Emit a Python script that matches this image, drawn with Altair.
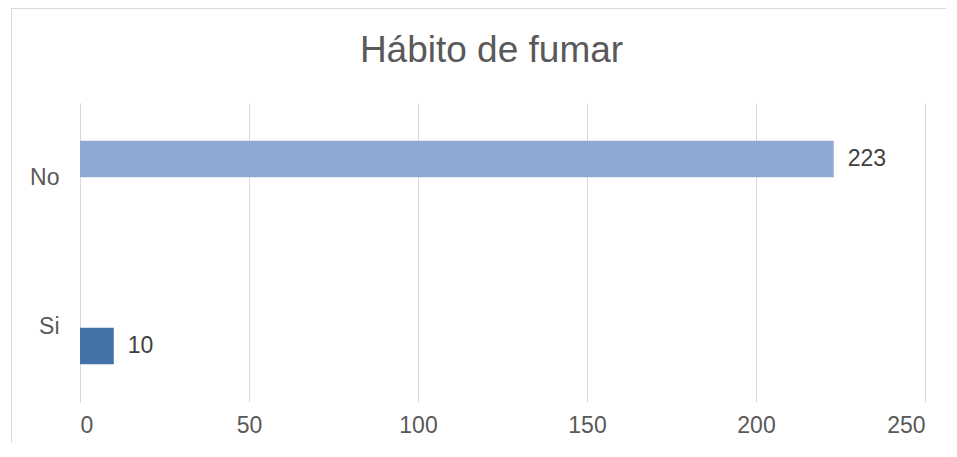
import altair as alt
import pandas as pd

categorias = ["No", "Si"]
series = ["No", "Si"]
valores = [223, 10]
colores = ["#8FAAD2", "#4472A8"]
ticks_x = [0, 50, 100, 150, 200, 250]
titulo = "Hábito de fumar"

df = pd.DataFrame({"cat": categorias, "serie": series, "valor": valores})

FONT = "Liberation Sans, Arial, sans-serif"

x_enc = alt.X("valor:Q",
              scale=alt.Scale(domain=[0, 250], nice=False),
              axis=alt.Axis(values=ticks_x, title=None, ticks=False, domain=False,
                            grid=True, gridColor="#d9d9d9", gridWidth=1,
                            labelPadding=12, labelFontSize=23, labelColor="#595959",
                            labelFont=FONT))
y_enc = alt.Y("cat:N",
              scale=alt.Scale(domain=categorias, paddingInner=0, paddingOuter=0),
              axis=alt.Axis(title=None, ticks=False, domain=True, domainColor="#d9d9d9",
                            domainWidth=1, grid=False, labelPadding=21, labelFontSize=23,
                            labelColor="#595959", labelFont=FONT))
yoff_enc = alt.YOffset("serie:N",
                       scale=alt.Scale(domain=series, paddingInner=0.03, paddingOuter=1))

base = alt.Chart(df)
one = pd.DataFrame({"a": [0]})

frame_top = alt.Chart(one).mark_rule(color="#d9d9d9", strokeWidth=1).encode(
    x=alt.value(-69), x2=alt.value(866), y=alt.value(-94.5))
frame_left = alt.Chart(one).mark_rule(color="#d9d9d9", strokeWidth=1).encode(
    x=alt.value(-68.5), y=alt.value(-95), y2=alt.value(340))

title = alt.Chart(pd.DataFrame({"t": [titulo]})).mark_text(
    align="center", baseline="alphabetic", fontSize=37, font=FONT, color="#595959"
).encode(x=alt.value(411.5), y=alt.value(-41), text="t:N")

bars = base.mark_bar().encode(
    x=x_enc, y=y_enc, yOffset=yoff_enc,
    color=alt.Color("serie:N", scale=alt.Scale(domain=series, range=colores), legend=None),
)

labels = base.mark_text(
    align="left", baseline="middle", dx=14, fontSize=23, font=FONT, color="#404040"
).encode(x=alt.X("valor:Q"), y=alt.Y("cat:N"), yOffset=alt.YOffset("serie:N"),
         text="valor:Q")

chart = alt.layer(frame_top, frame_left, title, bars, labels).properties(
    width=845, height=299,
    autosize=alt.AutoSizeParams(type="none"),
    padding={"left": 72, "top": 95, "right": 24, "bottom": 42},
).configure(background="white").configure_view(stroke=None)

chart.save("out.html", embed_options={"renderer": "svg", "actions": False})
